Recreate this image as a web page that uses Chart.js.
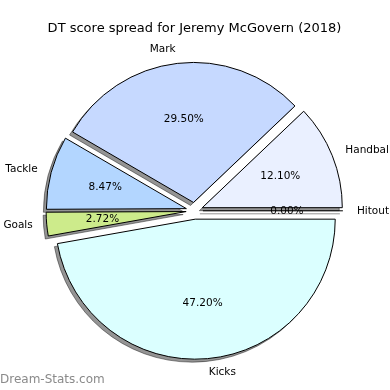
<!DOCTYPE html>
<html>
<head>
<meta charset="utf-8">
<script src="https://cdn.jsdelivr.net/npm/chart.js@4"></script>
<style>
  html, body { margin: 0; padding: 0; background: #fff; }
</style>
</head>
<body>
<canvas id="pieChart" width="390" height="390"></canvas>
<script>
// slices listed clockwise from 3 o'clock
const labels = ["Hitout", "Kicks", "Goals", "Tackle", "Mark", "Handball"];
const percents = [0.0, 47.2, 2.72, 8.47, 29.5, 12.1];
const colours = ["#ffe4e1", "#dbffff", "#cdeb8b", "#b3d6ff", "#c6d9ff", "#eaf0ff"];
const titleText = "DT score spread for Jeremy McGovern (2018)";
const watermark = "Dream-Stats.com";

const EXPLODE = 0.06;
const FONT = "'DejaVu Sans', sans-serif";

const piePlugin = {
  id: "pieExtras",
  afterDatasetsUpdate(chart) {
    // push every wedge out along its middle angle
    chart.getDatasetMeta(0).data.forEach((arc) => {
      const mid = (arc.startAngle + arc.endAngle) / 2;
      const d = EXPLODE * arc.outerRadius;
      arc.x += Math.cos(mid) * d;
      arc.y += Math.sin(mid) * d;
    });
  },
  beforeDatasetsDraw(chart) {
    // flat grey shadow under each wedge, shifted down-left
    const ctx = chart.ctx;
    ctx.save();
    ctx.translate(-3, 3);
    ctx.fillStyle = "rgba(0,0,0,0.42)";
    ctx.strokeStyle = "rgba(0,0,0,0.42)";
    ctx.lineWidth = 1;
    chart.getDatasetMeta(0).data.forEach((arc) => {
      ctx.beginPath();
      ctx.moveTo(arc.x, arc.y);
      if (arc.endAngle > arc.startAngle) {
        ctx.arc(arc.x, arc.y, arc.outerRadius, arc.startAngle, arc.endAngle);
        ctx.closePath();
        ctx.fill();
      } else {
        ctx.lineTo(arc.x + Math.cos(arc.startAngle) * arc.outerRadius,
                   arc.y + Math.sin(arc.startAngle) * arc.outerRadius);
      }
      ctx.stroke();
    });
    ctx.restore();
  },
  afterDatasetsDraw(chart) {
    const ctx = chart.ctx;
    const arcs = chart.getDatasetMeta(0).data;

    ctx.save();
    // empty wedge is still drawn as a single edge
    arcs.forEach((arc) => {
      if (arc.endAngle - arc.startAngle > 0) return;
      ctx.beginPath();
      ctx.moveTo(arc.x, arc.y);
      ctx.lineTo(arc.x + Math.cos(arc.startAngle) * arc.outerRadius,
                 arc.y + Math.sin(arc.startAngle) * arc.outerRadius);
      ctx.lineWidth = 1;
      ctx.strokeStyle = "#000";
      ctx.stroke();
    });

    ctx.fillStyle = "#000";
    ctx.font = "10.5px " + FONT;
    ctx.textBaseline = "middle";
    arcs.forEach((arc, i) => {
      const mid = (arc.startAngle + arc.endAngle) / 2;
      const c = Math.cos(mid), s = Math.sin(mid);
      const r = arc.outerRadius;
      ctx.textAlign = c > 0 ? "left" : "right";
      ctx.fillText(labels[i], arc.x + c * r * 1.1, arc.y + s * r * 1.1);
      ctx.textAlign = "center";
      ctx.fillText(percents[i].toFixed(2) + "%", arc.x + c * r * 0.6, arc.y + s * r * 0.6);
    });

    ctx.font = "12px " + FONT;
    ctx.fillStyle = "#8a8a8a";
    ctx.textAlign = "left";
    ctx.fillText(watermark, 0, 380);
    ctx.restore();
  },
};

new Chart(document.getElementById("pieChart"), {
  type: "pie",
  data: {
    labels: labels,
    datasets: [
      {
        data: percents,
        backgroundColor: colours,
        borderColor: "#000",
        borderWidth: 1,
        clip: false,
      },
    ],
  },
  options: {
    responsive: false,
    animation: false,
    rotation: 90,
    radius: 140,
    layout: { padding: { left: 0, right: 1, top: 0, bottom: 5 } },
    plugins: {
      legend: { display: false },
      tooltip: { enabled: false },
      title: {
        display: true,
        text: titleText,
        color: "#000",
        font: { family: FONT, size: 13, weight: "normal", lineHeight: 1.2 },
        padding: { top: 21, bottom: 0 },
      },
    },
  },
  plugins: [piePlugin],
});
</script>
</body>
</html>
